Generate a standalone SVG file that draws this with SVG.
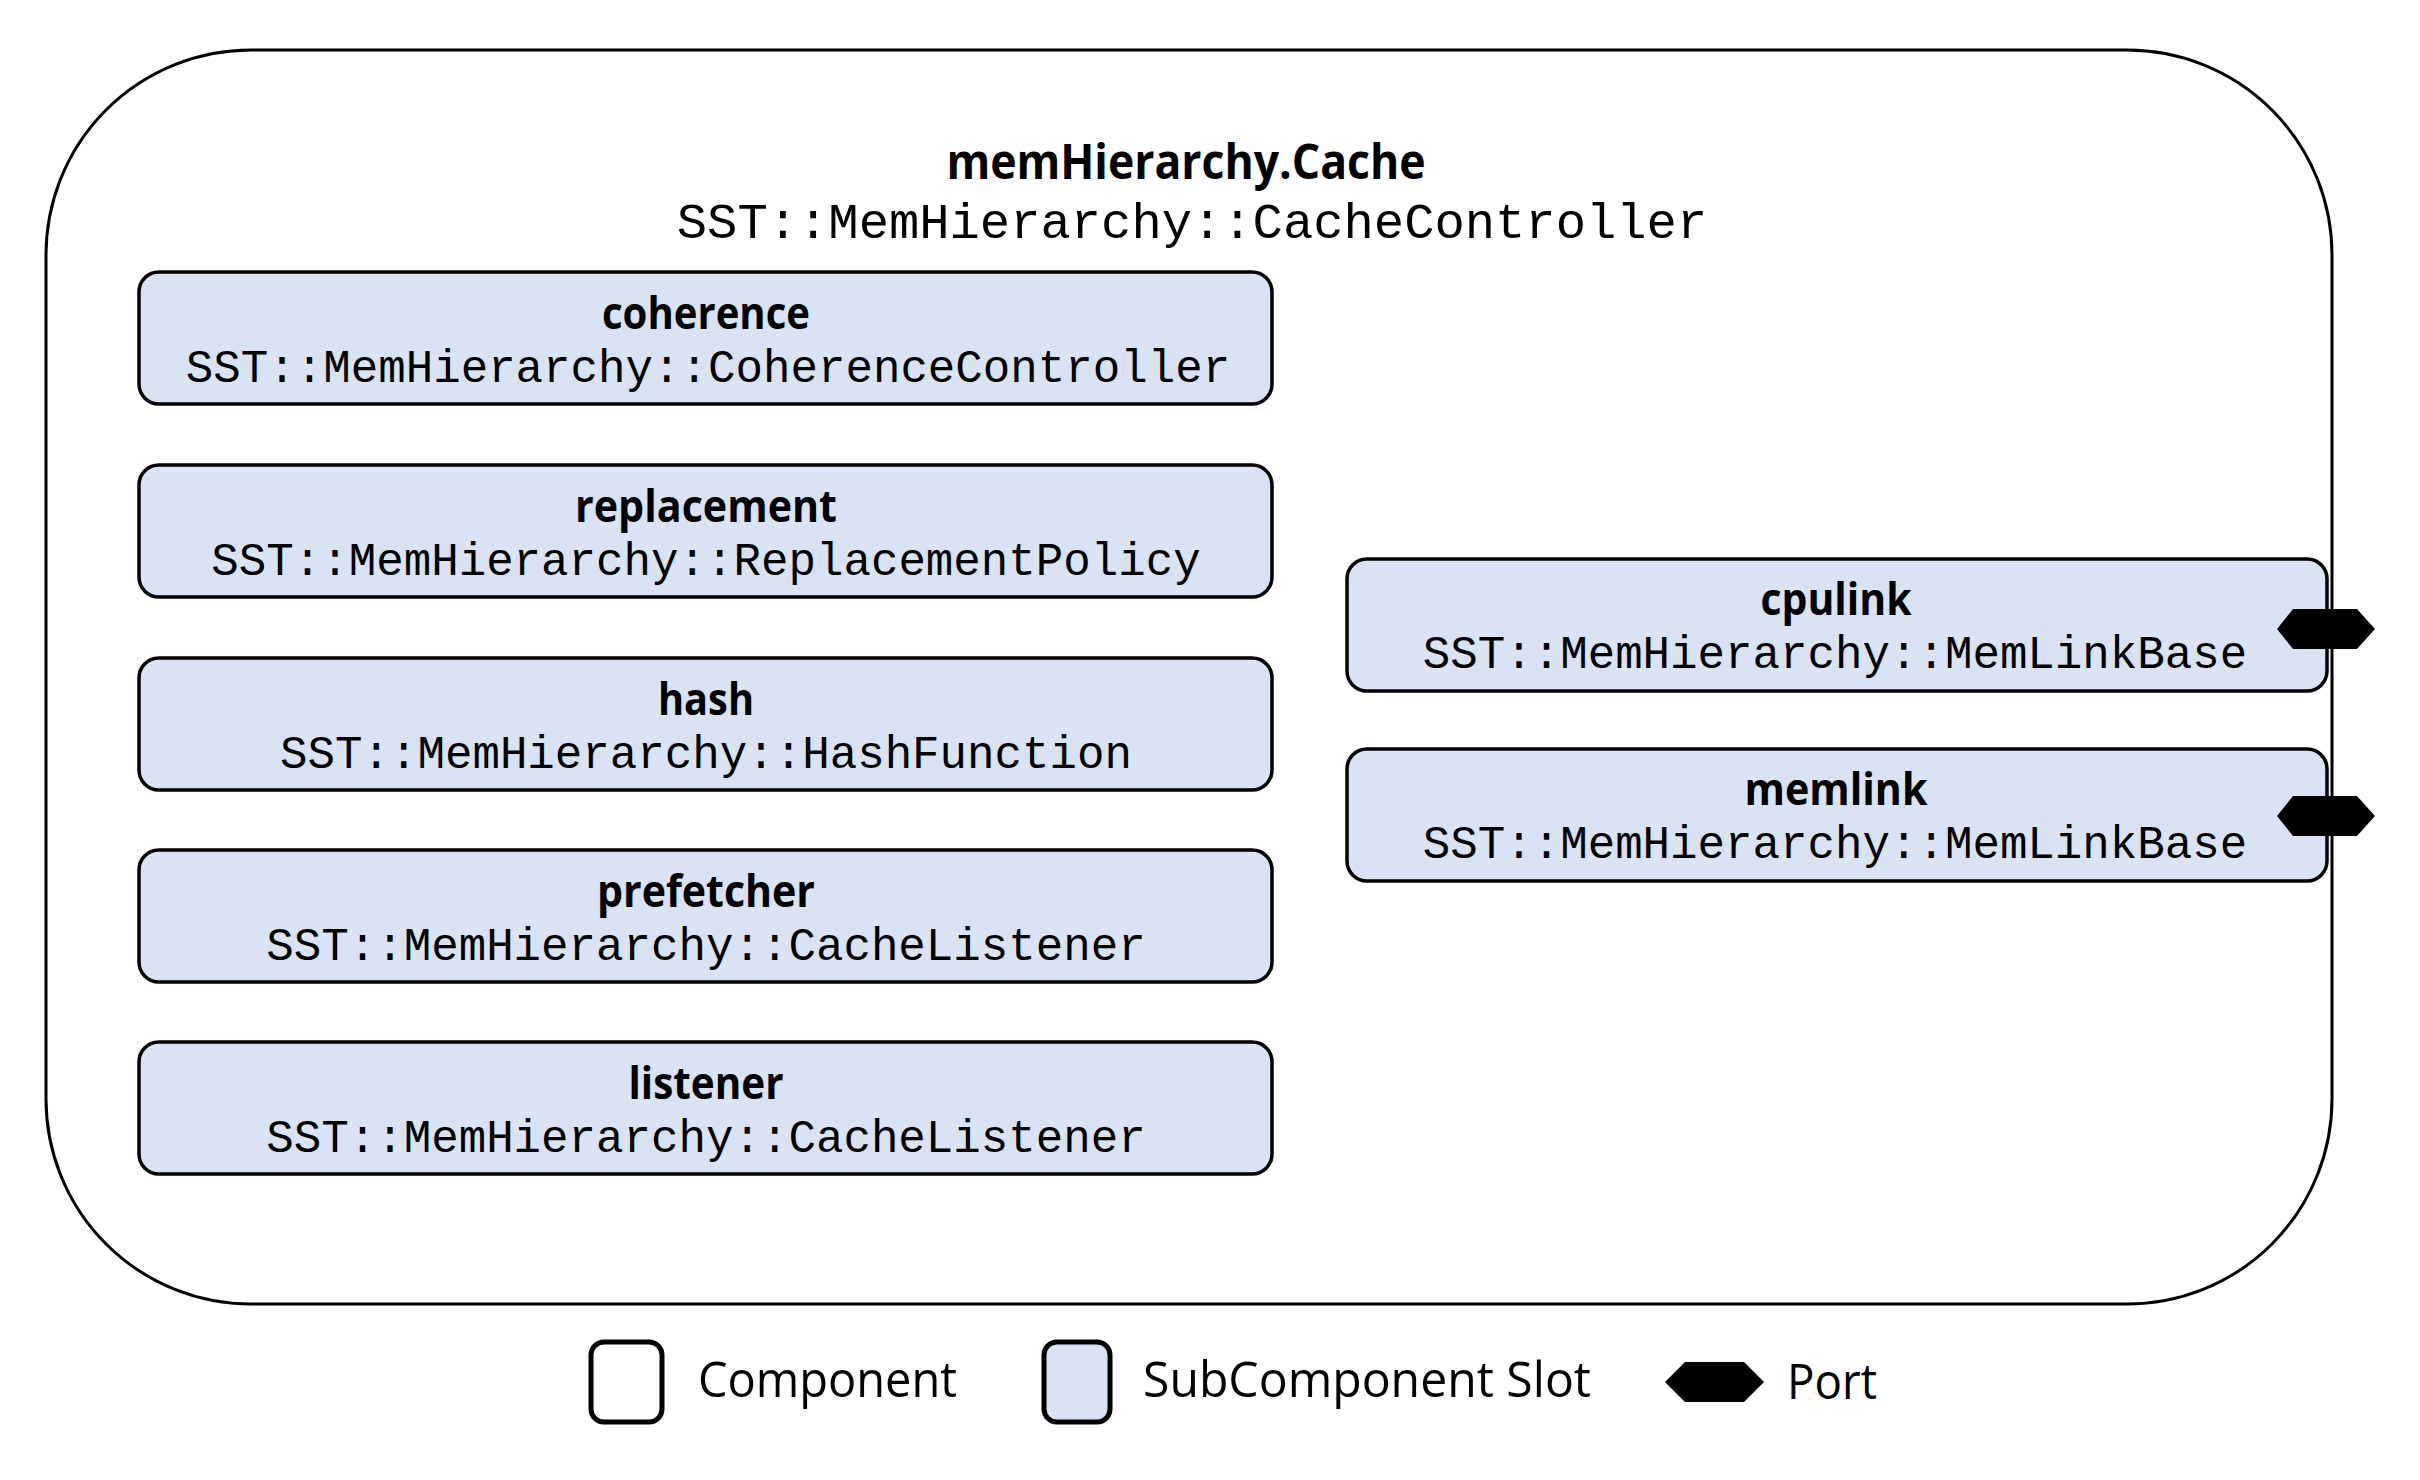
<svg xmlns="http://www.w3.org/2000/svg" width="2420" height="1480" viewBox="0 0 2420 1480">
  <style>
    .comp { fill: #FFFFFF; stroke: #000000; stroke-width: 3; }
    .slot { fill: #DAE3F3; stroke: #000000; stroke-width: 3.5; }
    .port { fill: #000000; stroke: none; }
    .lbl { font-family: "Open Sans", "Liberation Sans", sans-serif; font-weight: bold; font-size: 45px; fill: #000000; text-anchor: middle; }
    .title { font-family: "Open Sans", "Liberation Sans", sans-serif; font-weight: bold; font-size: 49px; fill: #000000; text-anchor: middle; }
    .mono { font-family: "Liberation Mono", "Courier New", monospace; font-size: 45.8px; fill: #000000; text-anchor: middle; }
    .monot { font-family: "Liberation Mono", "Courier New", monospace; font-size: 50.5px; fill: #000000; text-anchor: middle; }
    .leg { font-family: "Open Sans", "Liberation Sans", sans-serif; font-size: 50px; fill: #000000; }
    .legbox { stroke: #000000; stroke-width: 5; }
  </style>
  <defs>
    <polygon id="hex" points="-49,0 -33,-20 31,-20 49,0 31,20 -33,20"/>
  </defs>
  <rect width="2420" height="1480" fill="#FFFFFF"/>

  <g id="cache">
    <rect class="comp" x="46" y="50" width="2286" height="1254" rx="205" ry="205"/>
    <text class="title" x="1186" y="179" textLength="479" lengthAdjust="spacingAndGlyphs">memHierarchy.Cache</text>
    <text class="monot" x="1192" y="238">SST::MemHierarchy::CacheController</text>
  </g>

  <g id="coherence">
    <rect class="slot" x="139" y="272" width="1133" height="132" rx="20" ry="20"/>
    <text class="lbl" x="706" y="329" textLength="208" lengthAdjust="spacingAndGlyphs">coherence</text>
    <text class="mono" x="708" y="382">SST::MemHierarchy::CoherenceController</text>
  </g>

  <g id="replacement">
    <rect class="slot" x="139" y="465" width="1133" height="132" rx="20" ry="20"/>
    <text class="lbl" x="706" y="522" textLength="262" lengthAdjust="spacingAndGlyphs">replacement</text>
    <text class="mono" x="706" y="575">SST::MemHierarchy::ReplacementPolicy</text>
  </g>

  <g id="hash">
    <rect class="slot" x="139" y="658" width="1133" height="132" rx="20" ry="20"/>
    <text class="lbl" x="706" y="715" textLength="96" lengthAdjust="spacingAndGlyphs">hash</text>
    <text class="mono" x="706" y="768">SST::MemHierarchy::HashFunction</text>
  </g>

  <g id="prefetcher">
    <rect class="slot" x="139" y="850" width="1133" height="132" rx="20" ry="20"/>
    <text class="lbl" x="706" y="907" textLength="218" lengthAdjust="spacingAndGlyphs">prefetcher</text>
    <text class="mono" x="706" y="960">SST::MemHierarchy::CacheListener</text>
  </g>

  <g id="listener">
    <rect class="slot" x="139" y="1042" width="1133" height="132" rx="20" ry="20"/>
    <text class="lbl" x="706" y="1099" textLength="155" lengthAdjust="spacingAndGlyphs">listener</text>
    <text class="mono" x="706" y="1152">SST::MemHierarchy::CacheListener</text>
  </g>

  <g id="cpulink">
    <rect class="slot" x="1347" y="559" width="980" height="132" rx="20" ry="20"/>
    <text class="lbl" x="1836" y="615" textLength="151" lengthAdjust="spacingAndGlyphs">cpulink</text>
    <text class="mono" x="1835" y="668">SST::MemHierarchy::MemLinkBase</text>
    <use href="#hex" class="port" x="2326" y="629"/>
  </g>

  <g id="memlink">
    <rect class="slot" x="1347" y="749" width="980" height="132" rx="20" ry="20"/>
    <text class="lbl" x="1836" y="805" textLength="183" lengthAdjust="spacingAndGlyphs">memlink</text>
    <text class="mono" x="1835" y="858">SST::MemHierarchy::MemLinkBase</text>
    <use href="#hex" class="port" x="2326" y="816"/>
  </g>

  <g id="connectors"></g>

  <g id="legend">
    <rect class="legbox" x="591" y="1342" width="71" height="80" rx="13" ry="13" fill="#FFFFFF"/>
    <text class="leg" x="698" y="1397" textLength="259" lengthAdjust="spacingAndGlyphs">Component</text>
    <rect class="legbox" x="1044" y="1342" width="66" height="80" rx="13" ry="13" fill="#DAE3F3"/>
    <text class="leg" x="1143" y="1397" textLength="448" lengthAdjust="spacingAndGlyphs">SubComponent Slot</text>
    <polygon class="port" points="1665,1382 1685,1362 1744,1362 1764,1382 1744,1402 1685,1402"/>
    <text class="leg" x="1787" y="1399" textLength="90" lengthAdjust="spacingAndGlyphs">Port</text>
  </g>
</svg>
